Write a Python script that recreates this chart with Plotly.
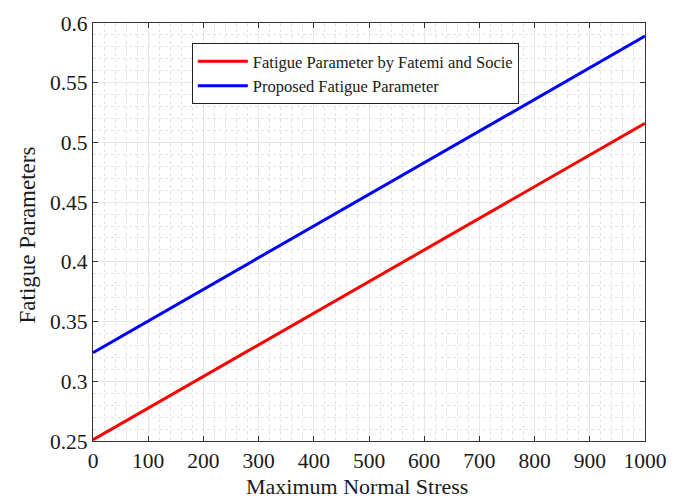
import plotly.graph_objects as go

stress = [0, 100, 200, 300, 400, 500, 600, 700, 800, 900, 1000]
fatemi_socie = [0.251, 0.2775, 0.304, 0.3305, 0.357, 0.3835, 0.410, 0.4365, 0.463, 0.4895, 0.516]
proposed = [0.324, 0.3505, 0.377, 0.4035, 0.430, 0.4565, 0.483, 0.5095, 0.536, 0.5625, 0.589]

names = ["Fatigue Parameter by Fatemi and Socie", "Proposed Fatigue Parameter"]
x_ticks = [0, 100, 200, 300, 400, 500, 600, 700, 800, 900, 1000]
y_ticks = [0.25, 0.3, 0.35, 0.4, 0.45, 0.5, 0.55, 0.6]
x_title = "Maximum Normal Stress"
y_title = "Fatigue Parameters"

font = "Liberation Serif, Times New Roman, serif"
txt = "#1a1a1a"

fig = go.Figure()
fig.add_trace(go.Scatter(x=stress, y=fatemi_socie, mode="lines", name=names[0],
                         line=dict(color="#ff0000", width=3)))
fig.add_trace(go.Scatter(x=stress, y=proposed, mode="lines", name=names[1],
                         line=dict(color="#0000ff", width=3)))

axis_common = dict(
    showline=True, linecolor="#333333", linewidth=1.3, mirror="ticks",
    ticks="inside", ticklen=5, tickcolor="#333333",
    showgrid=True, gridcolor="#e6e6e6", gridwidth=1,
    zeroline=False,
    tickfont=dict(family=font, size=21.5, color=txt),
)

fig.update_xaxes(
    range=[0, 1000], tickvals=x_ticks, ticktext=[str(v) for v in x_ticks],
    minor=dict(dtick=20, showgrid=True, gridcolor="#e3e3e3", griddash="dot", gridwidth=1),
    **axis_common,
)
fig.update_yaxes(
    range=[0.25, 0.6], tickvals=y_ticks, ticktext=[f"{v:g}" for v in y_ticks],
    minor=dict(dtick=0.01, showgrid=True, gridcolor="#e3e3e3", griddash="dot", gridwidth=1),
    **axis_common,
)

fig.add_annotation(text=x_title, xref="paper", yref="paper", x=0.478, y=-0.108,
                   xanchor="center", yanchor="middle", showarrow=False,
                   font=dict(family=font, size=22, color=txt))
fig.add_annotation(text=y_title, xref="paper", yref="paper", x=-0.1178, y=0.494,
                   xanchor="center", yanchor="middle", showarrow=False, textangle=-90,
                   font=dict(family=font, size=23, color=txt))

fig.update_layout(
    width=679, height=500,
    margin=dict(l=93, r=34, t=20, b=59),
    paper_bgcolor="white", plot_bgcolor="white",
    showlegend=True,
    legend=dict(
        x=0.179, y=0.952, xanchor="left", yanchor="top",
        bgcolor="white", bordercolor="#222222", borderwidth=1,
        font=dict(family=font, size=16.5, color=txt),
        tracegroupgap=0, itemwidth=50,
    ),
)

fig.write_html("out.html", config={"displayModeBar": False},
               post_script="document.body.style.margin='0';document.body.style.overflow='hidden';")
